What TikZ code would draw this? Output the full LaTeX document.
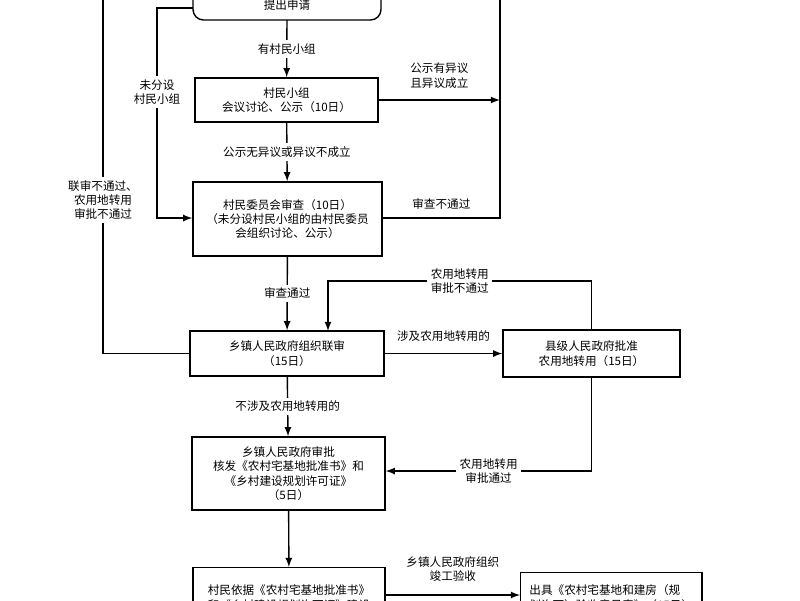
\documentclass[tikz,border=0pt]{standalone}
\usepackage{fontspec}
\setmainfont{Noto Sans CJK SC}
\usetikzlibrary{positioning}
\begin{document}
\begin{tikzpicture}[x=0.02cm,y=-0.02cm,
  font=\fontsize{6.6}{8.2}\selectfont,
  box/.style={draw,thick,align=center,inner sep=0pt},
  lbl/.style={fill=white,align=center,inner sep=2pt},
  arr/.style={->,>=latex,thick}]
\useasboundingbox (0,0) rectangle (800,600);
\clip (0,0) rectangle (800,600);
% boxes
\draw[thick,rounded corners=6pt] (193,-30) rectangle (381,20);
\node (apply) at (287,5) {提出申请};
\coordinate (applyS) at (287,20);
\node[box,minimum width=183*0.02cm,minimum height=44*0.02cm] (group) at (286.5,100) {村民小组\\会议讨论、公示（10日）};
\node[box,minimum width=189*0.02cm,minimum height=74*0.02cm] (comm) at (287.5,219) {村民委员会审查（10日）\\（未分设村民小组的由村民委员\\会组织讨论、公示）};
\node[box,minimum width=194*0.02cm,minimum height=45*0.02cm] (joint) at (287,353.5) {乡镇人民政府组织联审\\（15日）};
\node[box,minimum width=177*0.02cm,minimum height=47*0.02cm] (county) at (591.5,353.5) {县级人民政府批准\\农用地转用（15日）};
\node[box,minimum width=193*0.02cm,minimum height=73*0.02cm] (town) at (288.5,473.5) {乡镇人民政府审批\\核发《农村宅基地批准书》和\\《乡村建设规划许可证》\\（5日）};
\node[box,anchor=north,minimum width=192*0.02cm,minimum height=60*0.02cm,align=left,inner sep=5pt] (build) at (289,567) {村民依据《农村宅基地批准书》\\和《乡村建设规划许可证》建设};
\node[box,anchor=north west,minimum width=178*0.02cm,minimum height=50*0.02cm,align=left,inner sep=5pt] (accept) at (520,572) {出具《农村宅基地和建房（规\\划许可）验收意见表》（15日）};
% main flow
\draw[arr] (applyS) -- node[lbl]{有村民小组} (group);
\draw[arr] (group) -- node[lbl]{公示无异议或异议不成立} (comm);
\draw[arr] (comm) -- node[lbl]{审查通过} (joint);
\draw[arr] (joint) -- node[lbl]{不涉及农用地转用的} (town);
\draw[arr] (town) -- (build);
\draw[arr] (joint) -- node[above=3pt]{涉及农用地转用的} (county);
\draw[arr] (build.east |- 0,595) -- node[above=4pt,align=center]{乡镇人民政府组织\\竣工验收} (accept.west |- 0,595);
% county returns
\draw[arr] (county.north) |- node[lbl,pos=0.75]{农用地转用\\审批不通过} (328,281) -- (328,331);
\draw[arr] (county.south) |- node[lbl,pos=0.75]{农用地转用\\审批通过} (town.east |- 0,471);
% left loops
\draw[arr] (193,8) -| node[lbl,pos=0.7]{未分设\\村民小组} (157,218) -- (comm.west |- 0,218);
\draw[arr] (joint.west) -| node[lbl,pos=0.7]{联审不通过、\\农用地转用\\审批不通过} (103,-30);
% right loops
\draw[arr] (group.east) -- node[above=3pt,align=center]{公示有异议\\且异议成立} (group.east -| 500,0);
\draw[arr] (comm.east |- 0,218) -- node[above=1pt]{审查不通过} (500,218) -- (500,-30);
\end{tikzpicture}
\end{document}
